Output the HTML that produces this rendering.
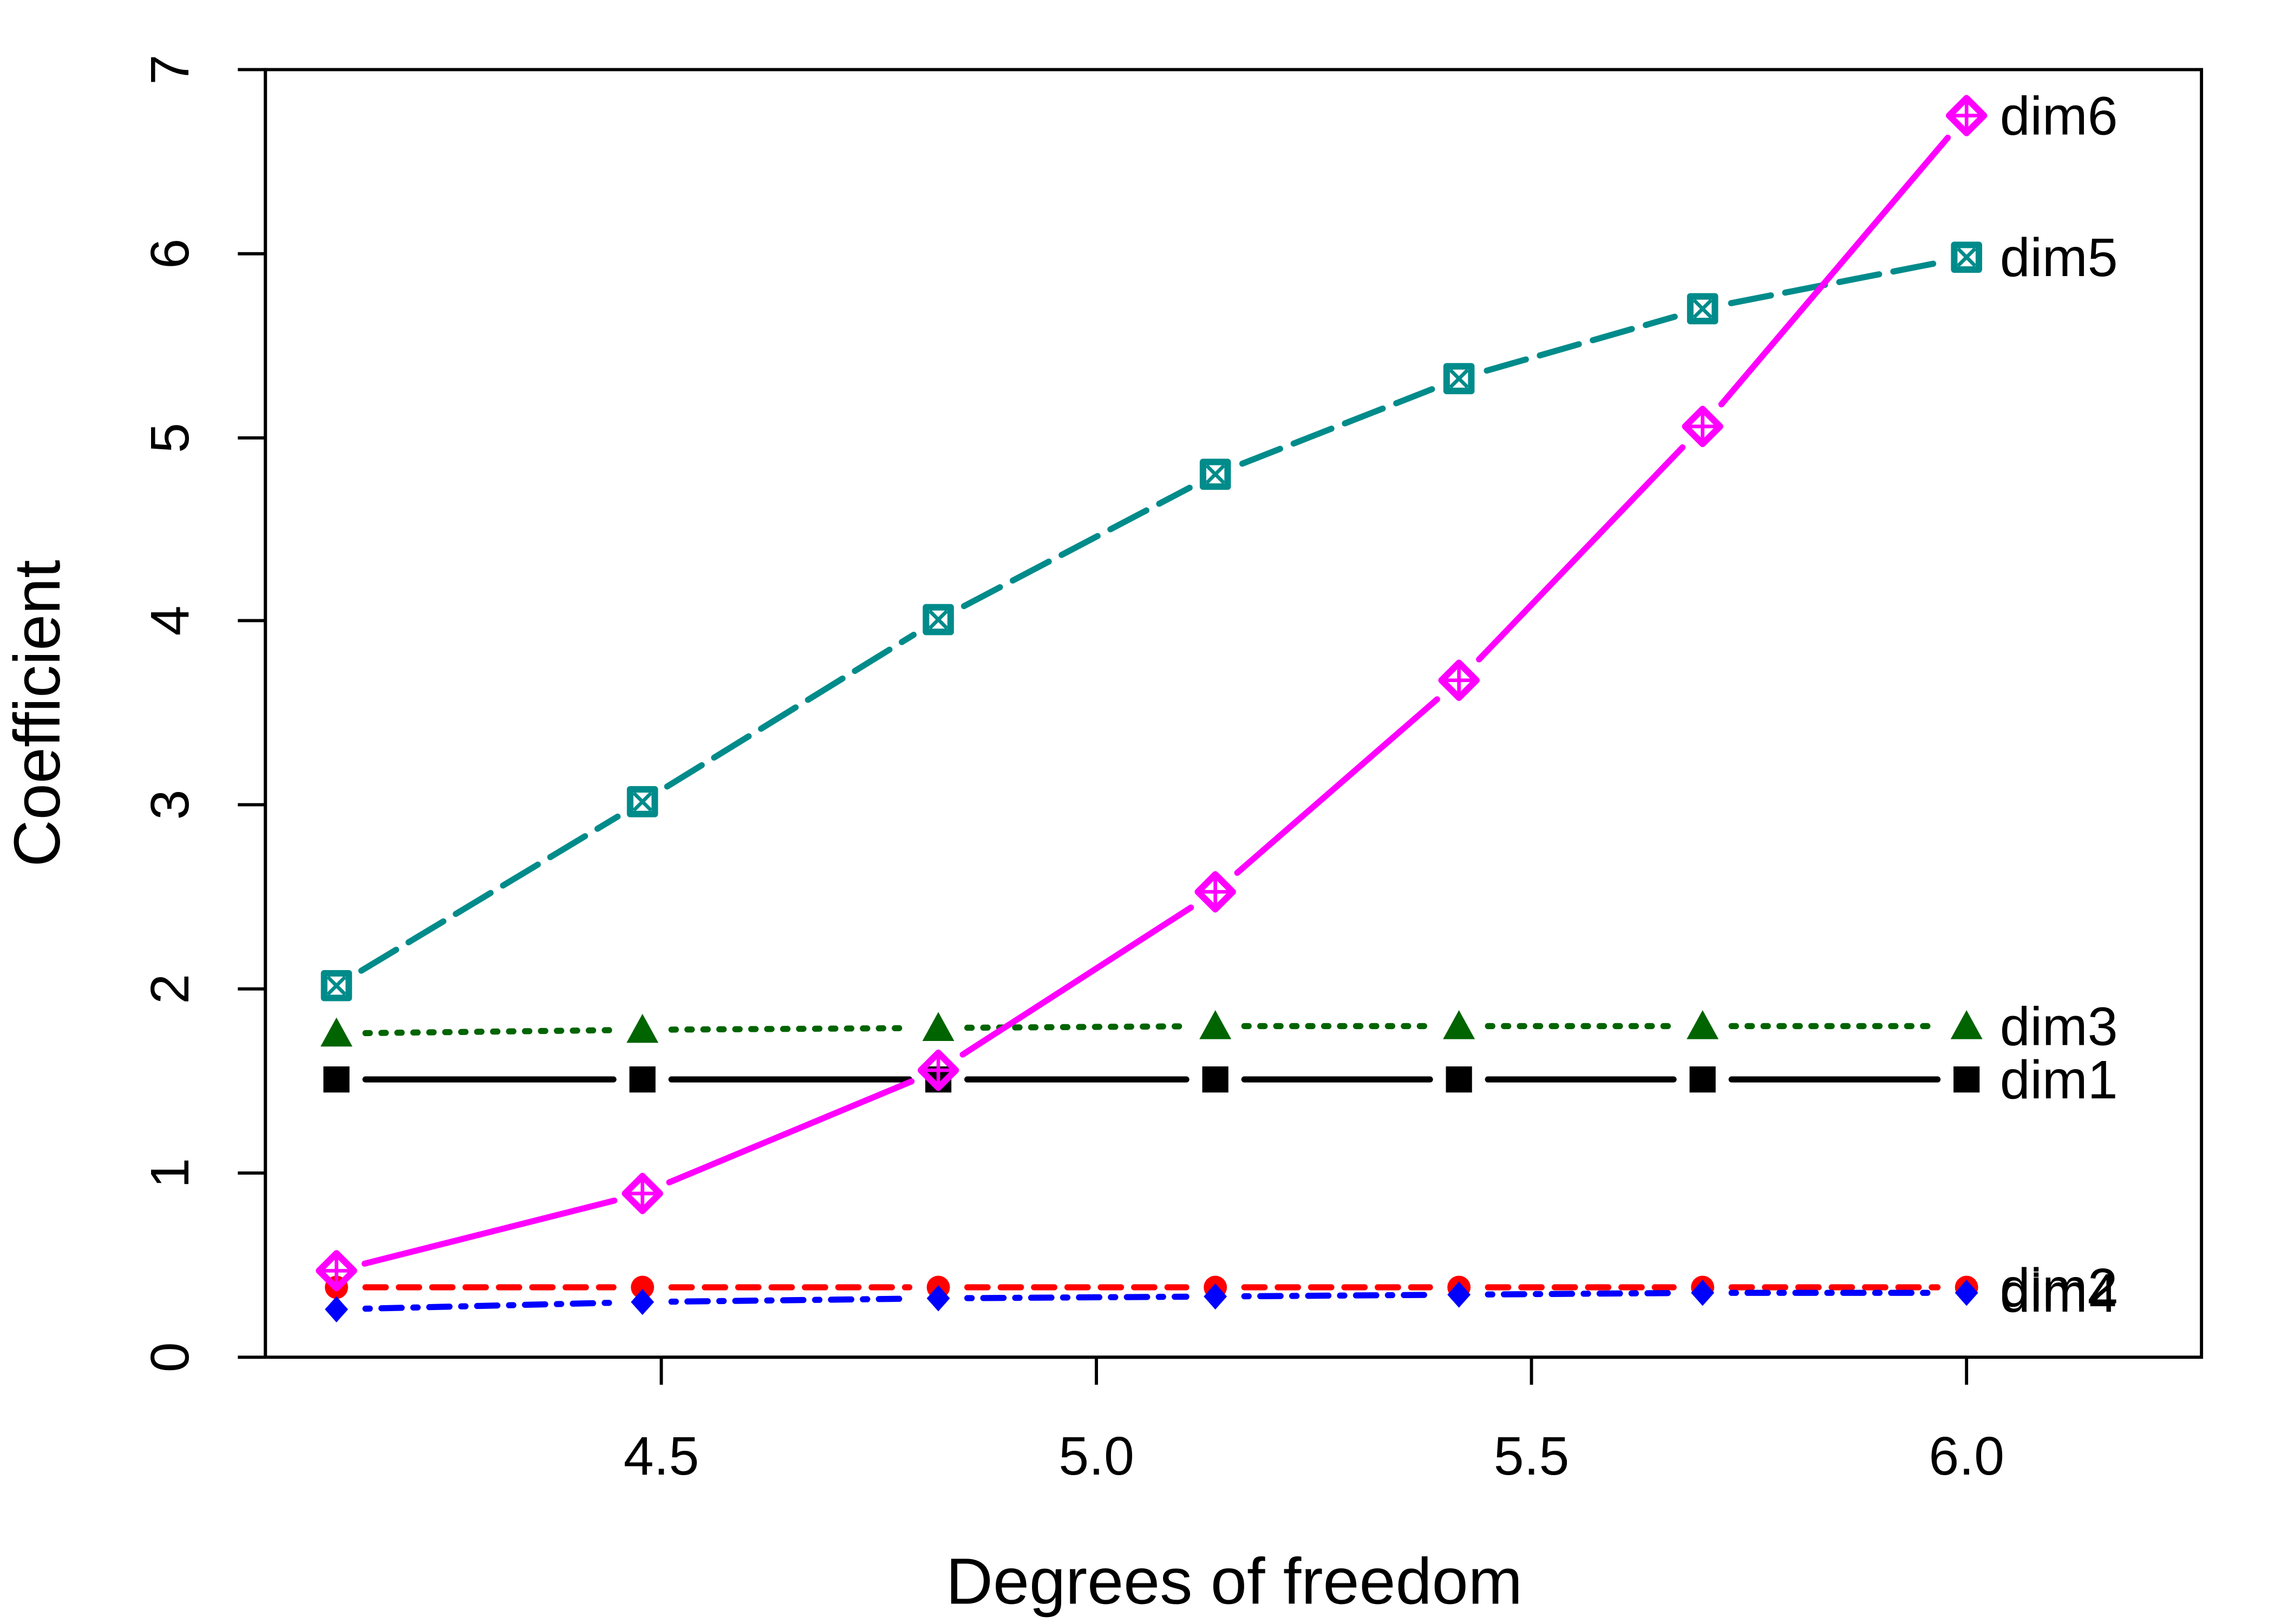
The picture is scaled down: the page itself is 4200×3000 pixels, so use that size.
<!DOCTYPE html>
<html><head><meta charset="utf-8"><style>html,body{margin:0;padding:0;background:#fff}svg{display:block}</style></head>
<body>
<svg id="s" width="4200" height="3000" viewBox="0 0 1568 1120" preserveAspectRatio="none" xmlns="http://www.w3.org/2000/svg" font-family="Liberation Sans, Arial, sans-serif">
<rect x="0" y="0" width="1568" height="1120" fill="#fff"/>
<rect x="183" y="48" width="1335" height="888" fill="none" stroke="#000" stroke-width="2.2"/>
<g stroke="#000" stroke-width="2.2">
<line x1="456" y1="936" x2="1356" y2="936"/>
<line x1="456" y1="936" x2="456" y2="955"/><line x1="756" y1="936" x2="756" y2="955"/><line x1="1056" y1="936" x2="1056" y2="955"/><line x1="1356" y1="936" x2="1356" y2="955"/>
<line x1="183" y1="48" x2="183" y2="936"/>
<line x1="183" y1="936" x2="164" y2="936"/><line x1="183" y1="809" x2="164" y2="809"/><line x1="183" y1="682" x2="164" y2="682"/><line x1="183" y1="555" x2="164" y2="555"/><line x1="183" y1="428" x2="164" y2="428"/><line x1="183" y1="302" x2="164" y2="302"/><line x1="183" y1="175" x2="164" y2="175"/><line x1="183" y1="48" x2="164" y2="48"/>
</g>
<g font-size="37.5" text-anchor="middle" fill="#000">
<text x="456" y="1017">4.5</text><text x="756" y="1017">5.0</text><text x="1056" y="1017">5.5</text><text x="1356" y="1017">6.0</text>
<text transform="translate(130,936) rotate(-90)">0</text>
<text transform="translate(130,809) rotate(-90)">1</text>
<text transform="translate(130,682) rotate(-90)">2</text>
<text transform="translate(130,555) rotate(-90)">3</text>
<text transform="translate(130,428) rotate(-90)">4</text>
<text transform="translate(130,302) rotate(-90)">5</text>
<text transform="translate(130,175) rotate(-90)">6</text>
<text transform="translate(130,48) rotate(-90)">7</text>
<text x="851" y="1106" font-size="45">Degrees of freedom</text>
<text transform="translate(41,492) rotate(-90)" font-size="45">Coefficient</text>
</g>
<g id="g"></g>
</svg>
<script>
var X=[232,443,647,838,1006,1174,1356];
function Y(v){return 936-v*126.857;}
var S=[
{n:"dim1",c:"#000",d:"",v:[1.51,1.51,1.51,1.51,1.51,1.51,1.51],p:"sq"},
{n:"dim2",c:"#f00",d:"14 9",v:[0.38,0.38,0.38,0.38,0.38,0.38,0.38],p:"ci"},
{n:"dim3",c:"#006400",d:"3 8",v:[1.76,1.78,1.79,1.80,1.80,1.80,1.80],p:"tr"},
{n:"dim4",c:"#00f",d:"3 8 14 8",v:[0.26,0.30,0.32,0.33,0.34,0.35,0.35],p:"di"},
{n:"dim5",c:"#008b8b",d:"28 10",v:[2.02,3.02,4.01,4.80,5.32,5.70,5.98],p:"sx"},
{n:"dim6",c:"#f0f",d:"",v:[0.47,0.89,1.56,2.53,3.68,5.06,6.75],p:"dp"}];
var h="";
S.forEach(function(s){
 for(var i=0;i<6;i++){var x1=X[i],y1=Y(s.v[i]),x2=X[i+1],y2=Y(s.v[i+1]);var dx=x2-x1,dy=y2-y1,L=Math.hypot(dx,dy),g=20;
 h+='<line x1="'+(x1+dx*g/L)+'" y1="'+(y1+dy*g/L)+'" x2="'+(x2-dx*g/L)+'" y2="'+(y2-dy*g/L)+'" stroke="'+s.c+'" stroke-width="4.2" stroke-linecap="round"'+(s.d?' stroke-dasharray="'+s.d+'"':'')+'/>';}
 for(var i=0;i<7;i++){var x=X[i],y=Y(s.v[i]),c=s.c;
  if(s.p=="sq")h+='<rect x="'+(x-9)+'" y="'+(y-9)+'" width="18" height="18" fill="'+c+'"/>';
  if(s.p=="ci")h+='<circle cx="'+x+'" cy="'+y+'" r="8" fill="'+c+'"/>';
  if(s.p=="tr")h+='<polygon points="'+x+','+(y-11)+' '+(x+11)+','+(y+9)+' '+(x-11)+','+(y+9)+'" fill="'+c+'"/>';
  if(s.p=="di")h+='<polygon points="'+x+','+(y-9)+' '+(x+8)+','+y+' '+x+','+(y+9)+' '+(x-8)+','+y+'" fill="'+c+'"/>';
  if(s.p=="sx")h+='<rect x="'+(x-8.5)+'" y="'+(y-8.5)+'" width="17" height="17" fill="none" stroke="'+c+'" stroke-width="4.5" stroke-linejoin="round"/><path d="M'+(x-6)+' '+(y-6)+'L'+(x+6)+' '+(y+6)+'M'+(x+6)+' '+(y-6)+'L'+(x-6)+' '+(y+6)+'" stroke="'+c+'" stroke-width="2.5"/>';
  if(s.p=="dp")h+='<polygon points="'+x+','+(y-12)+' '+(x+12)+','+y+' '+x+','+(y+12)+' '+(x-12)+','+y+'" fill="none" stroke="'+c+'" stroke-width="4.5" stroke-linejoin="round"/><path d="M'+x+' '+(y-11)+'V'+(y+11)+'M'+(x-11)+' '+y+'H'+(x+11)+'" stroke="'+c+'" stroke-width="2.5"/>';
 }
 h+='<text x="1379" y="'+(Y(s.v[6])+13)+'" font-size="37.5" fill="#000">'+s.n+'</text>';
});
document.getElementById("g").innerHTML=h;
</script>
</body></html>
